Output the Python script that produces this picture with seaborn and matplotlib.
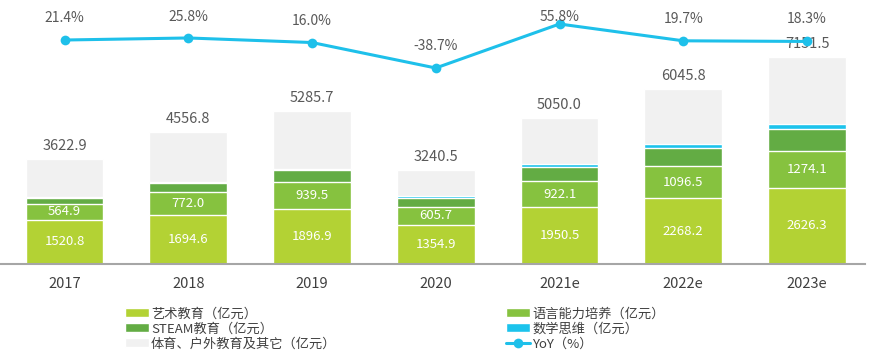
import numpy as np
import pandas as pd
import matplotlib
matplotlib.use("Agg")
import matplotlib.pyplot as plt
import seaborn as sns

years = ["2017", "2018", "2019", "2020", "2021e", "2022e", "2023e"]
art = [1520.8, 1694.6, 1896.9, 1354.9, 1950.5, 2268.2, 2626.3]
language = [564.9, 772.0, 939.5, 605.7, 922.1, 1096.5, 1274.1]
steam = [195, 310, 390, 310, 460, 635, 760]      # estimated, not labelled
math_think = [30, 35, 40, 80, 115, 125, 160]     # estimated, not labelled
total = [3622.9, 4556.8, 5285.7, 3240.5, 5050.0, 6045.8, 7151.5]
yoy = [21.4, 25.8, 16.0, -38.7, 55.8, 19.7, 18.3]

names = ["艺术教育（亿元）", "语言能力培养（亿元）", "STEAM教育（亿元）",
         "数学思维（亿元）", "体育、户外教育及其它（亿元）", "YoY（%）"]
colors = ["#B3D234", "#86C23F", "#63AC44", "#1CC3EC", "#F1F1F1"]
line_color = "#1EC0EA"

sns.set_style("white")
plt.rcParams["font.family"] = ["Noto Sans CJK SC", "DejaVu Sans"]

df = pd.DataFrame({"year": years, "art": art, "language": language,
                   "steam": steam, "math": math_think, "total": total, "yoy": yoy})
df["c1"] = df["art"]
df["c2"] = df["c1"] + df["language"]
df["c3"] = df["c2"] + df["steam"]
df["c4"] = df["c3"] + df["math"]

W, H = 877, 359
fig = plt.figure(figsize=(W / 100, H / 100), dpi=100)
base_px = 264
ax = fig.add_axes([0, 1 - base_px / H, 865 / W, base_px / H])

# draw cumulative bars from tallest to shortest so they stack visually
layers = [("total", 4), ("c4", 3), ("c3", 2), ("c2", 1), ("c1", 0)]
for col, i in layers:
    sns.barplot(data=df, x="year", y=col, color=colors[i], width=0.63,
                saturation=1, label=names[i], ax=ax, zorder=2)
if ax.get_legend() is not None:
    ax.get_legend().remove()

px_per_unit = 0.029
ax.set_ylim(0, base_px / px_per_unit)
spacing = 123.75
ax.set_xlim(-64.5 / spacing, (865 - 64.5) / spacing)

for spine in ["left", "right", "top"]:
    ax.spines[spine].set_visible(False)
ax.spines["bottom"].set_color("#A6A6A6")
ax.spines["bottom"].set_linewidth(1.5)
ax.set_yticks([])
ax.set_xlabel("")
ax.set_ylabel("")
ax.tick_params(axis="x", length=0, pad=9, labelsize=10.5, labelcolor="#404040")

for i, r in df.iterrows():
    ax.text(i, r["art"] / 2, f"{r['art']:.1f}", ha="center", va="center",
            color="white", fontsize=9.5)
    ax.text(i, r["c1"] + r["language"] / 2, f"{r['language']:.1f}", ha="center",
            va="center", color="white", fontsize=9.5)
    ax.annotate(f"{r['total']:.1f}", (i, r["total"]), xytext=(0, 4),
                textcoords="offset points", ha="center", va="bottom",
                color="#595959", fontsize=10.5)

# YoY line on a second axis
ax2 = ax.twinx()
px_per_pct = 44 / (55.8 + 38.7)
top_val = 55.8 + 24 / px_per_pct
ax2.set_ylim(top_val - base_px / px_per_pct, top_val)
sns.lineplot(x=np.arange(len(years)), y=yoy, color=line_color, linewidth=2.2,
             marker="o", markersize=7, markeredgewidth=0, label=names[5], ax=ax2)
ax2.set_axis_off()
ax2.get_legend().remove()
for i, v in enumerate(yoy):
    ly = min(v + 22 / px_per_pct, top_val - 17 / px_per_pct)
    ax2.text(i, ly, f"{v:.1f}%", ha="center", va="center", color="#595959",
             fontsize=10)

h1, l1 = ax.get_legend_handles_labels()
h2, l2 = ax2.get_legend_handles_labels()
hmap = dict(zip(l1 + l2, h1 + h2))

leg_kw = dict(frameon=False, fontsize=9.5, handlelength=1.8, handleheight=0.6,
              handletextpad=0.15, labelspacing=0.15, borderaxespad=0, loc="upper left")
leg1 = fig.legend([hmap[n] for n in (names[0], names[2], names[4])],
                  [names[0], names[2], names[4]],
                  bbox_to_anchor=(120 / W, 1 - 302 / H), **leg_kw)
leg2 = fig.legend([hmap[n] for n in (names[1], names[3], names[5])],
                  [names[1], names[3], names[5]],
                  bbox_to_anchor=(501 / W, 1 - 302 / H), **leg_kw)
for leg in (leg1, leg2):
    for t in leg.get_texts():
        t.set_color("#404040")

fig.savefig("out.png", dpi=100)
